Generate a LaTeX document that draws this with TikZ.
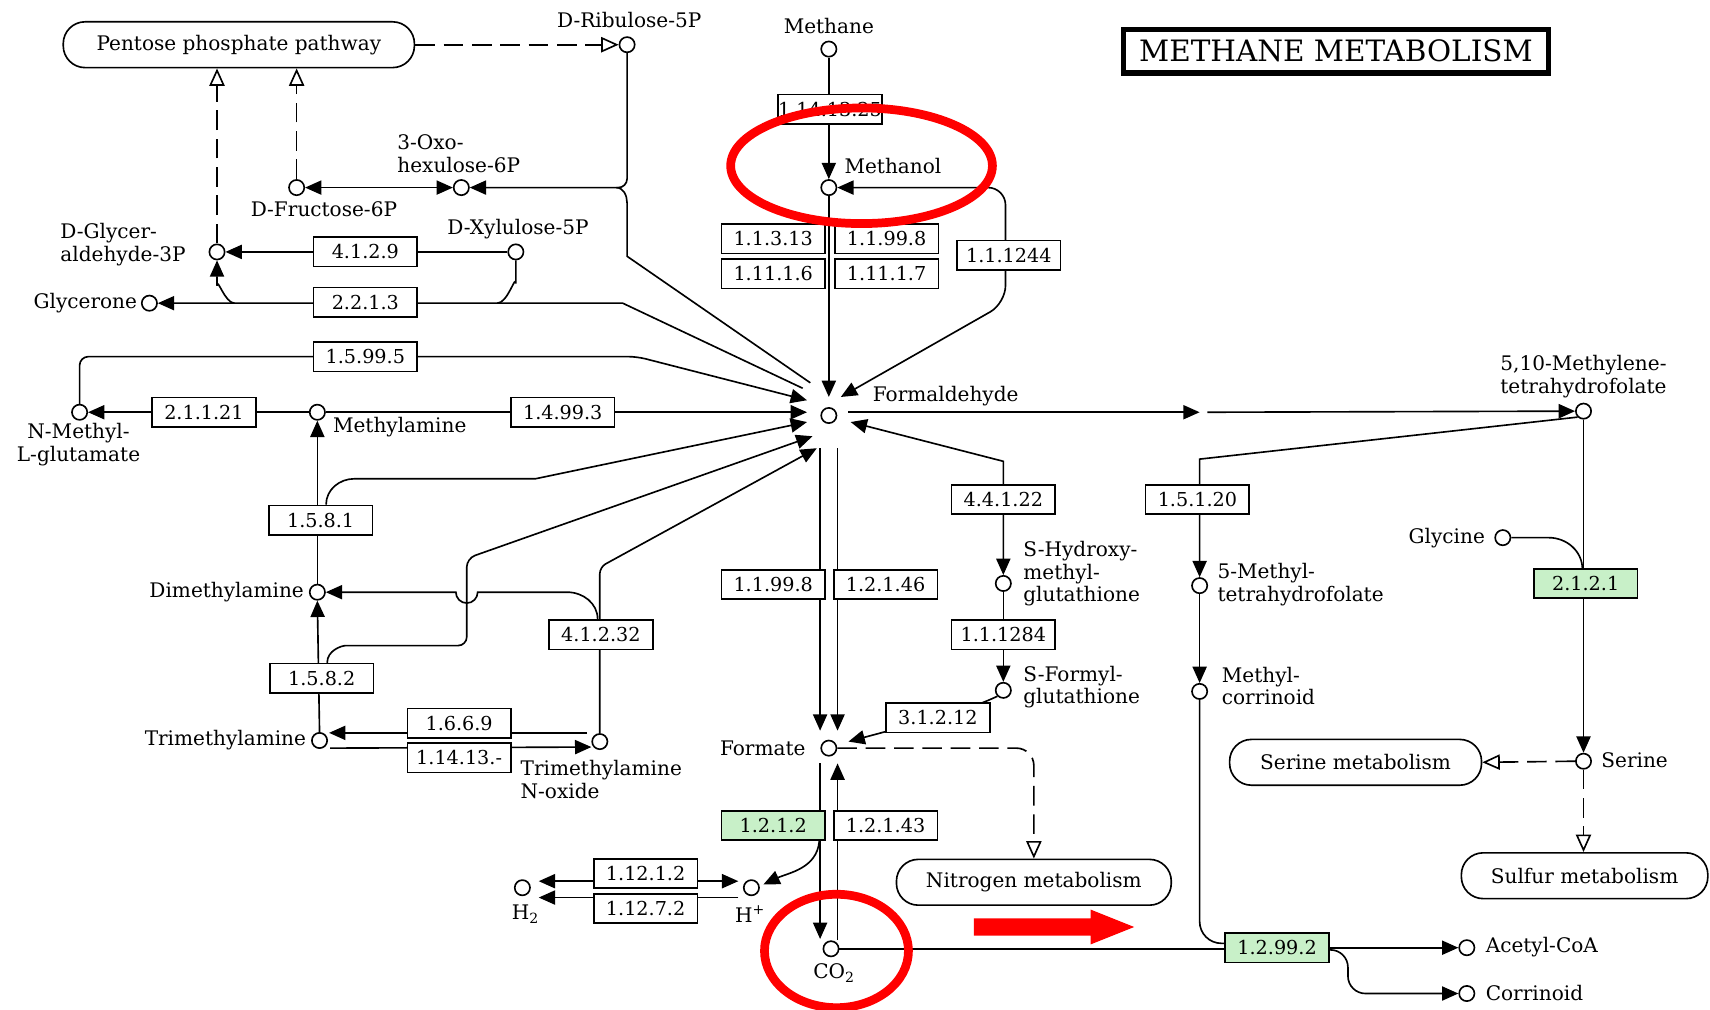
\documentclass[tikz,border=0pt]{standalone}
\usepackage{fontspec}
\setmainfont{DejaVu Serif}
\usetikzlibrary{arrows.meta,backgrounds,calc}
\definecolor{ecgreen}{RGB}{200,240,200}
\definecolor{annred}{RGB}{255,0,0}
\begin{document}
\begin{tikzpicture}[x=0.5pt,y=-0.5pt,
  every node/.style={font=\fontsize{9.2}{10.5}\selectfont, inner sep=1pt},
  cpd/.style={circle,draw,line width=0.75pt,minimum size=7pt,inner sep=0pt,fill=white},
  ec/.style={rectangle,draw,line width=0.75pt,minimum width=47.5pt,minimum height=13.5pt,inner sep=0pt,fill=white,font=\fontsize{8.8}{10}\selectfont},
  ecg/.style={ec,fill=ecgreen},
  pmap/.style={rectangle,draw,line width=0.75pt,rounded corners=10pt,minimum height=21pt,fill=white},
  lbl/.style={inner sep=1pt},
  conn/.style={line width=0.75pt},
  arr/.style={conn,-{Triangle[length=7.5pt,width=6.5pt]}},
  biarr/.style={conn,{Triangle[length=7.5pt,width=6.5pt]}-{Triangle[length=7.5pt,width=6.5pt]}},
  oarr/.style={conn,dash pattern=on 9pt off 4pt,-{Triangle[open,length=8pt,width=7pt,fill=white]}},
  redmark/.style={draw=annred,line width=4pt}
]
\useasboundingbox (0,0) rectangle (1568,926);

% ---------- title ----------
\node[draw,line width=2.5pt,minimum width=195pt,minimum height=20pt,fill=white,
      font=\fontsize{13.5}{15}\selectfont] (title) at (1225,47) {METHANE METABOLISM};

% ---------- maps ----------
\node[pmap,minimum width=161pt] (pentose) at (219,41) {Pentose phosphate pathway};
\node[pmap,minimum width=115.5pt] (serinemap) at (1243,699) {Serine metabolism};
\node[pmap,minimum width=113pt] (sulfur) at (1453,803) {Sulfur metabolism};
\node[pmap,minimum width=126pt] (nitrogen) at (948,809) {Nitrogen metabolism};

% ---------- compounds ----------
\node[cpd] (ribu) at (575,41) {};
\node[cpd] (methane) at (760,45) {};
\node[cpd] (methanol) at (760,172) {};
\node[cpd] (oxo) at (423,172) {};
\node[cpd] (fru) at (272,172) {};
\node[cpd] (gap) at (199,231) {};
\node[cpd] (xyl) at (473,231) {};
\node[cpd] (glycerone) at (137,278) {};
\node[cpd] (nmg) at (73,378) {};
\node[cpd] (mam) at (291,378) {};
\node[cpd] (form) at (760,381) {};
\node[cpd] (dma) at (291,543) {};
\node[cpd] (tma) at (293,679) {};
\node[cpd] (tmao) at (550,680) {};
\node[cpd] (formate) at (760,686) {};
\node[cpd] (shg) at (920,535) {};
\node[cpd] (sfg) at (920,633) {};
\node[cpd] (h2) at (479,814) {};
\node[cpd] (hplus) at (689,814) {};
\node[cpd] (co2) at (762,870) {};
\node[cpd] (mthf) at (1452,377) {};
\node[cpd] (m5thf) at (1100,537) {};
\node[cpd] (mcor) at (1100,634) {};
\node[cpd] (glycine) at (1378,493) {};
\node[cpd] (serine) at (1452,698) {};
\node[cpd] (acoa) at (1345,869) {};
\node[cpd] (corr) at (1345,911) {};

% ---------- compound labels ----------
\node[lbl] (ribuL) at (577,18) {D-Ribulose-5P};
\node[lbl] (methaneL) at (760,24) {Methane};
\node[lbl,anchor=west] (methanolL) at (772,152) {Methanol};
\node[lbl,anchor=west,align=left] (oxoL) at (362,141) {3-Oxo-\\hexulose-6P};
\node[lbl] (fruL) at (297,192) {D-Fructose-6P};
\node[lbl,anchor=west,align=left] (gapL) at (53,224) {D-Glycer-\\aldehyde-3P};
\node[lbl] (xylL) at (475,210) {D-Xylulose-5P};
\node[lbl,anchor=east] (glyceroneL) at (128,278) {Glycerone};
\node[lbl,align=center] (nmgL) at (72,408) {N-Methyl-\\L-glutamate};
\node[lbl,anchor=west] (mamL) at (303,392) {Methylamine};
\node[lbl,anchor=west] (formL) at (798,363) {Formaldehyde};
\node[lbl,anchor=east] (dmaL) at (281,543) {Dimethylamine};
\node[lbl,anchor=east] (tmaL) at (283,679) {Trimethylamine};
\node[lbl,anchor=west,align=left] (tmaoL) at (475,715) {Trimethylamine\\N-oxide};
\node[lbl,anchor=east] (formateL) at (741,686) {Formate};
\node[lbl,anchor=west,align=left] (shgL) at (936,526) {S-Hydroxy-\\methyl-\\glutathione};
\node[lbl,anchor=west,align=left] (sfgL) at (936,630) {S-Formyl-\\glutathione};
\node[lbl] (h2L) at (482,838) {H\textsubscript{2}};
\node[lbl] (hplusL) at (688,838) {H\textsuperscript{+}};
\node[lbl] (co2L) at (765,892) {CO\textsubscript{2}};
\node[lbl,align=center] (mthfL) at (1452,345) {5,10-Methylene-\\tetrahydrofolate};
\node[lbl,anchor=west,align=left] (m5thfL) at (1114,536) {5-Methyl-\\tetrahydrofolate};
\node[lbl,anchor=west,align=left] (mcorL) at (1118,629) {Methyl-\\corrinoid};
\node[lbl,anchor=east] (glycineL) at (1364,493) {Glycine};
\node[lbl,anchor=west] (serineL) at (1466,697) {Serine};
\node[lbl,anchor=west] (acoaL) at (1360,868) {Acetyl-CoA};
\node[lbl,anchor=west] (corrL) at (1360,911) {Corrinoid};

% ---------- enzymes ----------
\node[ec] (e1141325) at (761,100) {1.14.13.25};
\node[ec] (e11313) at (709,219) {1.1.3.13};
\node[ec] (e119981) at (813,219) {1.1.99.8};
\node[ec] (e11116) at (709,251) {1.11.1.6};
\node[ec] (e11117) at (813,251) {1.11.1.7};
\node[ec] (e11244) at (925,234) {1.1.1244};
\node[ec] (e4129) at (335,231) {4.1.2.9};
\node[ec] (e2213) at (335,277) {2.2.1.3};
\node[ec] (e15995) at (335,327) {1.5.99.5};
\node[ec] (e21121) at (187,378) {2.1.1.21};
\node[ec] (e14993) at (516,378) {1.4.99.3};
\node[ec] (e1581) at (294,477) {1.5.8.1};
\node[ec] (e1582) at (295,622) {1.5.8.2};
\node[ec] (e41232) at (551,582) {4.1.2.32};
\node[ec] (e1669) at (421,663) {1.6.6.9};
\node[ec] (e11413) at (421,695) {1.14.13.-};
\node[ec] (e119982) at (709,536) {1.1.99.8};
\node[ec] (e12146) at (812,536) {1.2.1.46};
\node[ec] (e44122) at (920,458) {4.4.1.22};
\node[ec] (e111284) at (920,582) {1.1.1284};
\node[ec] (e31212) at (860,658) {3.1.2.12};
\node[ecg] (e1212) at (709,757) {1.2.1.2};
\node[ec] (e12143) at (812,757) {1.2.1.43};
\node[ec] (e11212) at (592,801) {1.12.1.2};
\node[ec] (e11272) at (592,833) {1.12.7.2};
\node[ec] (e15120) at (1098,458) {1.5.1.20};
\node[ecg] (e2121) at (1454,535) {2.1.2.1};
\node[ecg] (e12992) at (1171,869) {1.2.99.2};

% ---------- connectors ----------
\begin{scope}[on background layer]
\fill[white] (0,0) rectangle (1568,926);
% pentose phosphate
\draw[oarr] (pentose.east) -- (ribu.west);
\draw[oarr] (gap.north) -- (gap.north |- pentose.south);
\draw[oarr] (fru.north) -- (fru.north |- pentose.south);
\draw[arr,rounded corners=4pt] (ribu.south) -- (575,172) -- (oxo.east);
\draw[conn] (565,172) to[out=0,in=90] (575,186) -- (575,235) -- ($(form)+(-17,-30)$);
\draw[biarr] (fru.east) -- (oxo.west);
\draw[arr] (xyl.west) -- (gap.east);
\draw[arr] ($(form)+(-24,-25)$) -- (571,278) -- (glycerone.east);
\draw[arr] (215,278) to[out=180,in=90] (199,262) -- (gap.south);
\draw[conn] (xyl.south) -- (473,260) to[out=90,in=0] (456,278);
% amines
\draw[arr,rounded corners=4pt] (nmg.north) |- (584,327) -- ($(form)+(-20,-14)$);
\draw[arr] (mam.east) -- ($(form)+(-20,-3)$);
\draw[arr] (mam.west) -- (nmg.east);
\draw[arr] (dma.north) -- (mam.south);
\draw[arr] (tma.north) -- (dma.south);
\draw[arr] ($(e1581.north)+(5,0)$) to[out=90,in=180] (325,439) -- (491,439) -- ($(form)+(-20,6)$);
\draw[arr,rounded corners=4pt] ($(e1582.north)+(5,0)$) to[out=90,in=180] (325,592) -- (428,592) -- (428,512) -- ($(form)+(-15,19)$);
\draw[arr,rounded corners=3pt] (tmao.north) -- (550,520) -- ($(form)+(-11,30)$);
\draw[arr] ($(e41232.north)+(-3,0)$) to[out=90,in=0] (520,543) -- (438,543)
      arc[start angle=0,end angle=180,radius=10] -- (dma.east);
\draw[arr] ($(tmao.west)+(-4,-8)$) -- ($(tma.east)+(1,-7)$);
\draw[arr] ($(tma.east)+(2,7)$) -- ($(tmao.west)+(0,5)$);
% methane / methanol
\draw[arr] (methane.south) -- (methanol.north);
\draw[arr] (methanol.south) -- ($(form)+(0,-17)$);
\draw[biarr,rounded corners=8pt] (methanol.east) -- (922,172) -- (922,278) -- ($(form)+(11,-17)$);
% formaldehyde onwards
\draw[arr] ($(form.east)+(10,-3)$) -- (1100,378);
\draw[arr] (1107,378) -- (mthf.west);
\draw[arr] ($(form)+(-8,30)$) -- ($(formate)+(-8,-16)$);
\draw[arr] ($(form)+(8,30)$) -- ($(formate)+(8,-16)$);
\draw[biarr] ($(form)+(20,6)$) -- (920,423) -- (shg.north);
\draw[arr] (shg.south) -- (sfg.north);
\draw[arr] (sfg.south west) .. controls (900,645) .. (e31212.center) -- ($(formate)+(18,-6)$);
\draw[oarr,rounded corners=8pt] (formate.east) -| (nitrogen.north);
% formate / CO2
\draw[arr] ($(formate)+(-8,14)$) -- ($(co2)+(-10,-9)$);
\draw[arr] ($(co2)+(6,-8)$) -- ($(formate)+(8,14)$);
\draw[arr] ($(e1212.south east)+(-6,0)$) to[out=-95,in=25] ($(hplus)+(11,-3)$);
\draw[biarr] ($(h2)+(15,-6)$) -- ($(hplus)+(-12,-6)$);
\draw[arr] ($(hplus)+(-12,9)$) -- ($(h2)+(15,9)$);
% folate branch
\draw[arr] (mthf.south west) -- (1100,421) -- (m5thf.north);
\draw[arr] (m5thf.south) -- (mcor.north);
\draw[conn,rounded corners=10pt] (mcor.south) |- ($(e12992.west)+(0,-4)$);
\draw[conn] (co2.east) -- ($(e12992.west)+(0,1)$);
\draw[arr] (e12992.east) -- (acoa.west);
\draw[arr,rounded corners=8pt] ($(e12992.east)+(0,2)$) -| (1236,911) -- (corr.west);
\draw[arr] (mthf.south) -- (serine.north);
\draw[conn] (glycine.east) -- (1420,493) to[out=0,in=90] (1451,522);
\draw[oarr] (serine.west) -- (serinemap.east);
\draw[oarr] (serine.south) -- (serine.south |- sulfur.north);
\end{scope}

% ---------- red annotations ----------
\draw[redmark] (790,152) ellipse[x radius=120,y radius=53];
\draw[redmark] (767,872) ellipse[x radius=66,y radius=52];
\fill[annred] (893,842) -- (1000,842) -- (1000,834) -- (1040,850) -- (1000,866) -- (1000,858) -- (893,858) -- cycle;
\end{tikzpicture}
\end{document}
